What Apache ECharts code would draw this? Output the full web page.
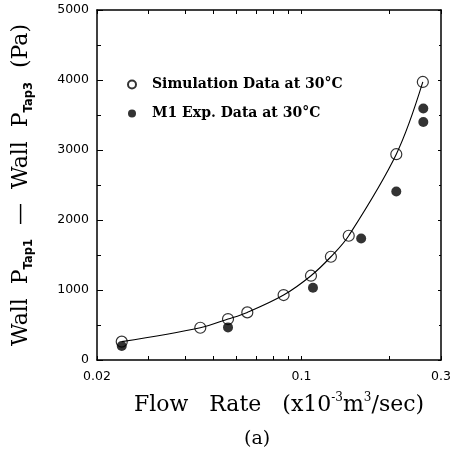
<!DOCTYPE html>
<html><head><meta charset="utf-8">
<script src="https://cdn.jsdelivr.net/npm/echarts@6/dist/echarts.min.js"></script>
<style>html,body{margin:0;padding:0;background:#fff}#c{width:458px;height:456px}</style>
</head><body><div id="c"></div>
<script>
// Data
const simFlow = [0.0243, 0.0451, 0.0561, 0.0653, 0.0869, 0.1078, 0.1261, 0.1451, 0.211, 0.260];
const simDp   = [262, 461, 585, 680, 928, 1204, 1475, 1775, 2940, 3972];
const expFlow = [0.0243, 0.0561, 0.1095, 0.160, 0.211, 0.261, 0.261];
const expDp   = [200, 466, 1032, 1736, 2407, 3592, 3401];
const xLabelValues = [0.02, 0.1, 0.3];
const xTickValues  = [0.02, 0.03, 0.04, 0.05, 0.06, 0.07, 0.08, 0.09, 0.1, 0.2, 0.3];
const yMin = 0, yMax = 5000, yStep = 1000;
const simName = 'Simulation Data at 30°C';
const expName = 'M1 Exp. Data at 30°C';

const zip = (a, b) => a.map((v, i) => [v, b[i]]);
const serif = 'DejaVu Serif';
const sans = 'DejaVu Sans';

const chart = echarts.init(document.getElementById('c'), null, {renderer: 'canvas'});
const xCommon = {
  type: 'log', min: 0.02, max: 0.3,
  axisLine: {show: true, onZero: false, lineStyle: {color: '#000', width: 1.5}},
  axisTick: {show: true, inside: true, length: 4, customValues: xTickValues, lineStyle: {color: '#000', width: 1}},
  minorTick: {show: false},
  splitLine: {show: false}
};
const yCommon = {
  type: 'value', min: yMin, max: yMax, interval: yStep,
  axisLine: {show: true, onZero: false, lineStyle: {color: '#000', width: 1.5}},
  axisTick: {show: true, inside: true, length: 6, lineStyle: {color: '#000', width: 1}},
  minorTick: {show: true, splitNumber: 2, length: 4, lineStyle: {color: '#000', width: 1}},
  splitLine: {show: false}
};
chart.setOption({
  animation: false,
  backgroundColor: '#fff',
  grid: {left: 97, right: 17, top: 10, bottom: 96, containLabel: false, outerBoundsMode: 'none'},
  legend: {
    data: [simName, expName],
    orient: 'vertical', left: 122, top: 71,
    itemWidth: 30, itemHeight: 8, itemGap: 12,
    textStyle: {fontFamily: serif, fontSize: 14, fontWeight: 'bold', color: '#000', lineHeight: 17}
  },
  xAxis: [
    Object.assign({}, xCommon, {
      position: 'bottom',
      axisLabel: {show: true, customValues: xLabelValues, showMinLabel: true, showMaxLabel: true,
        margin: 10, fontFamily: sans, fontSize: 12.5, color: '#000',
        formatter: v => String(+(+v).toPrecision(2))},
      name: '{t|Flow   Rate   (x10}{s|-3}{t|m}{s|3}{t|/sec)}',
      nameLocation: 'middle', nameGap: 32,
      nameTextStyle: {padding: [0, 0, 0, 20], rich: {
        t: {fontFamily: serif, fontSize: 22, color: '#000', lineHeight: 27},
        s: {fontFamily: serif, fontSize: 12, color: '#000', lineHeight: 13, verticalAlign: 'top'}
      }}
    }),
    Object.assign({}, xCommon, {position: 'top', axisLabel: {show: false}})
  ],
  yAxis: [
    Object.assign({}, yCommon, {
      position: 'left',
      axisLabel: {show: true, margin: 8, fontFamily: sans, fontSize: 12.5, color: '#000',
        formatter: v => String(v)},
      name: '{t|Wall  P}{s|Tap1}{t|  —  Wall  P}{s|Tap3}{t|  (Pa)}',
      nameLocation: 'middle', nameRotate: 90, nameGap: 62,
      nameTextStyle: {rich: {
        t: {fontFamily: serif, fontSize: 22, color: '#000', lineHeight: 27},
        s: {fontFamily: sans, fontSize: 11.5, fontWeight: 'bold', color: '#000', lineHeight: 12, verticalAlign: 'bottom'}
      }}
    }),
    Object.assign({}, yCommon, {position: 'right', axisLabel: {show: false},
      axisTick: {show: true, inside: true, length: 3, lineStyle: {color: '#000', width: 1}},
      minorTick: {show: true, splitNumber: 2, length: 2, lineStyle: {color: '#000', width: 1}}})
  ],
  graphic: [{
    type: 'text', left: 244, top: 430,
    style: {text: '(a)', fontFamily: serif, fontSize: 19, fill: '#000'}
  }],
  series: [
    {
      name: 'fit', type: 'line', data: zip(simFlow, simDp), smooth: 0.35,
      symbol: 'none', silent: true, z: 1,
      lineStyle: {color: '#000', width: 1.1}
    },
    {
      name: expName, type: 'scatter', data: zip(expFlow, expDp),
      symbol: 'circle', symbolSize: 10, z: 2,
      itemStyle: {color: '#000'}
    },
    {
      name: simName, type: 'scatter', data: zip(simFlow, simDp),
      symbol: 'circle', symbolSize: 11, z: 3,
      itemStyle: {color: 'rgba(255,255,255,0)', borderColor: '#000', borderWidth: 1.2}
    }
  ]
});
</script></body></html>
